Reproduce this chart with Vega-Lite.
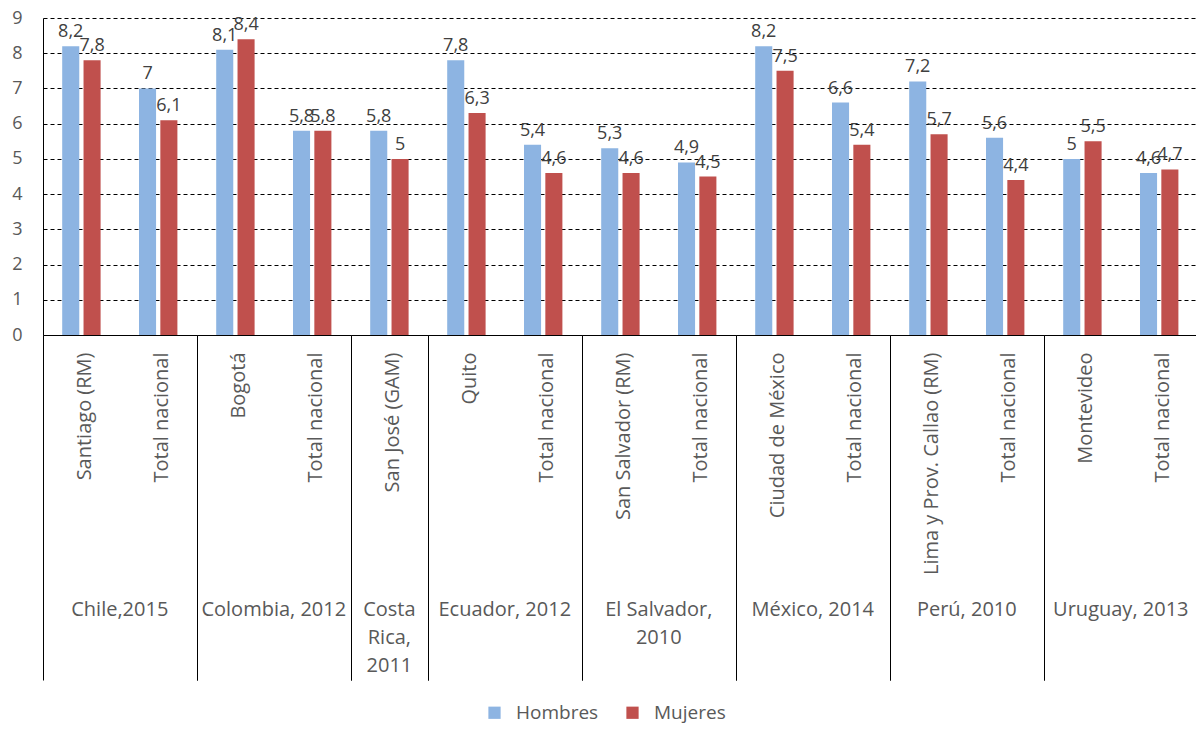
{
  "$schema": "https://vega.github.io/schema/vega-lite/v6.json",
  "padding": {"left": 11, "top": 9, "right": 0, "bottom": 5},
  "bounds": "flush",
  "data": {"values": [
    {"grupo": "Chile,2015", "lugar": "Santiago (RM)", "sexo": "Hombres", "valor": 8.2},
    {"grupo": "Chile,2015", "lugar": "Santiago (RM)", "sexo": "Mujeres", "valor": 7.8},
    {"grupo": "Chile,2015", "lugar": "Total nacional", "sexo": "Hombres", "valor": 7},
    {"grupo": "Chile,2015", "lugar": "Total nacional", "sexo": "Mujeres", "valor": 6.1},
    {"grupo": "Colombia, 2012", "lugar": "Bogotá", "sexo": "Hombres", "valor": 8.1},
    {"grupo": "Colombia, 2012", "lugar": "Bogotá", "sexo": "Mujeres", "valor": 8.4},
    {"grupo": "Colombia, 2012", "lugar": "Total nacional", "sexo": "Hombres", "valor": 5.8},
    {"grupo": "Colombia, 2012", "lugar": "Total nacional", "sexo": "Mujeres", "valor": 5.8},
    {"grupo": "Costa Rica, 2011", "lugar": "San José (GAM)", "sexo": "Hombres", "valor": 5.8},
    {"grupo": "Costa Rica, 2011", "lugar": "San José (GAM)", "sexo": "Mujeres", "valor": 5},
    {"grupo": "Ecuador, 2012", "lugar": "Quito", "sexo": "Hombres", "valor": 7.8},
    {"grupo": "Ecuador, 2012", "lugar": "Quito", "sexo": "Mujeres", "valor": 6.3},
    {"grupo": "Ecuador, 2012", "lugar": "Total nacional", "sexo": "Hombres", "valor": 5.4},
    {"grupo": "Ecuador, 2012", "lugar": "Total nacional", "sexo": "Mujeres", "valor": 4.6},
    {"grupo": "El Salvador, 2010", "lugar": "San Salvador (RM)", "sexo": "Hombres", "valor": 5.3},
    {"grupo": "El Salvador, 2010", "lugar": "San Salvador (RM)", "sexo": "Mujeres", "valor": 4.6},
    {"grupo": "El Salvador, 2010", "lugar": "Total nacional", "sexo": "Hombres", "valor": 4.9},
    {"grupo": "El Salvador, 2010", "lugar": "Total nacional", "sexo": "Mujeres", "valor": 4.5},
    {"grupo": "México, 2014", "lugar": "Ciudad de México", "sexo": "Hombres", "valor": 8.2},
    {"grupo": "México, 2014", "lugar": "Ciudad de México", "sexo": "Mujeres", "valor": 7.5},
    {"grupo": "México, 2014", "lugar": "Total nacional", "sexo": "Hombres", "valor": 6.6},
    {"grupo": "México, 2014", "lugar": "Total nacional", "sexo": "Mujeres", "valor": 5.4},
    {"grupo": "Perú, 2010", "lugar": "Lima y Prov. Callao (RM)", "sexo": "Hombres", "valor": 7.2},
    {"grupo": "Perú, 2010", "lugar": "Lima y Prov. Callao (RM)", "sexo": "Mujeres", "valor": 5.7},
    {"grupo": "Perú, 2010", "lugar": "Total nacional", "sexo": "Hombres", "valor": 5.6},
    {"grupo": "Perú, 2010", "lugar": "Total nacional", "sexo": "Mujeres", "valor": 4.4},
    {"grupo": "Uruguay, 2013", "lugar": "Montevideo", "sexo": "Hombres", "valor": 5},
    {"grupo": "Uruguay, 2013", "lugar": "Montevideo", "sexo": "Mujeres", "valor": 5.5},
    {"grupo": "Uruguay, 2013", "lugar": "Total nacional", "sexo": "Hombres", "valor": 4.6},
    {"grupo": "Uruguay, 2013", "lugar": "Total nacional", "sexo": "Mujeres", "valor": 4.7}
  ]},
  "facet": {
    "column": {
      "field": "grupo",
      "type": "nominal",
      "sort": ["Chile,2015", "Colombia, 2012", "Costa Rica, 2011", "Ecuador, 2012", "El Salvador, 2010", "México, 2014", "Perú, 2010", "Uruguay, 2013"],
      "title": null,
      "header": {
        "labelOrient": "bottom",
        "labelFontSize": 20,
        "labelColor": "#595959",
        "labelPadding": 265,
        "labelBaseline": "top",
        "labelLineHeight": 28,
        "labelExpr": "datum.value == 'Costa Rica, 2011' ? ['Costa', 'Rica,', '2011'] : datum.value == 'El Salvador, 2010' ? ['El Salvador,', '2010'] : datum.value"
      }
    }
  },
  "spacing": 0,
  "resolve": {"scale": {"x": "independent"}},
  "spec": {
    "width": {"step": 21.3333},
    "height": 317,
    "encoding": {
      "x": {
        "field": "lugar",
        "type": "nominal",
        "sort": null,
        "scale": {"paddingInner": 0, "paddingOuter": 0},
        "axis": {
          "title": null,
          "grid": false,
          "domainColor": "#000000",
          "domainWidth": 1,
          "tickBand": "extent",
          "tickSize": 345,
          "tickWidth": 1,
          "tickColor": {"condition": {"test": "datum.value && datum.value !== 'Total nacional' && datum.value !== 'San José (GAM)'", "value": "transparent"}, "value": "#000000"},
          "labelAngle": 270,
          "labelAlign": "right",
          "labelBaseline": "middle",
          "labelPadding": -328,
          "labelOffset": 3,
          "labelFontSize": 20,
          "labelColor": "#595959",
          "labelLimit": 0
        }
      },
      "xOffset": {"field": "sexo", "type": "nominal", "scale": {"paddingInner": 0.2, "paddingOuter": 0.9}},
      "y": {
        "field": "valor",
        "type": "quantitative",
        "scale": {"domain": [0, 9]},
        "axis": {
          "title": null,
          "values": [0, 1, 2, 3, 4, 5, 6, 7, 8, 9],
          "ticks": false,
          "labelPadding": 21,
          "labelFontSize": 18,
          "labelColor": "#595959",
          "domainColor": "#000000",
          "grid": true,
          "gridColor": "#000000",
          "gridDash": [4, 3],
          "gridWidth": 1
        }
      }
    },
    "layer": [
      {
        "mark": {"type": "bar"},
        "encoding": {
          "color": {
            "field": "sexo",
            "type": "nominal",
            "scale": {"domain": ["Hombres", "Mujeres"], "range": ["#8DB4E2", "#C0504D"]},
            "legend": {"title": null}
          }
        }
      },
      {
        "mark": {"type": "text", "baseline": "alphabetic", "dy": -9, "fontSize": 18, "color": "#404040"},
        "encoding": {"text": {"field": "valor", "type": "quantitative", "format": ".1~f"}}
      }
    ]
  },
  "config": {
    "font": "Open Sans",
    "view": {"stroke": null},
    "locale": {"number": {"decimal": ",", "thousands": ".", "grouping": [3], "currency": ["", " €"]}},
    "legend": {
      "orient": "bottom",
      "direction": "horizontal",
      "symbolType": "square",
      "symbolSize": 150,
      "symbolStrokeWidth": 0,
      "labelFontSize": 19,
      "labelColor": "#595959",
      "labelOffset": 12,
      "columnPadding": 24,
      "offset": 22,
      "layout": {"bottom": {"anchor": "middle"}}
    }
  }
}
